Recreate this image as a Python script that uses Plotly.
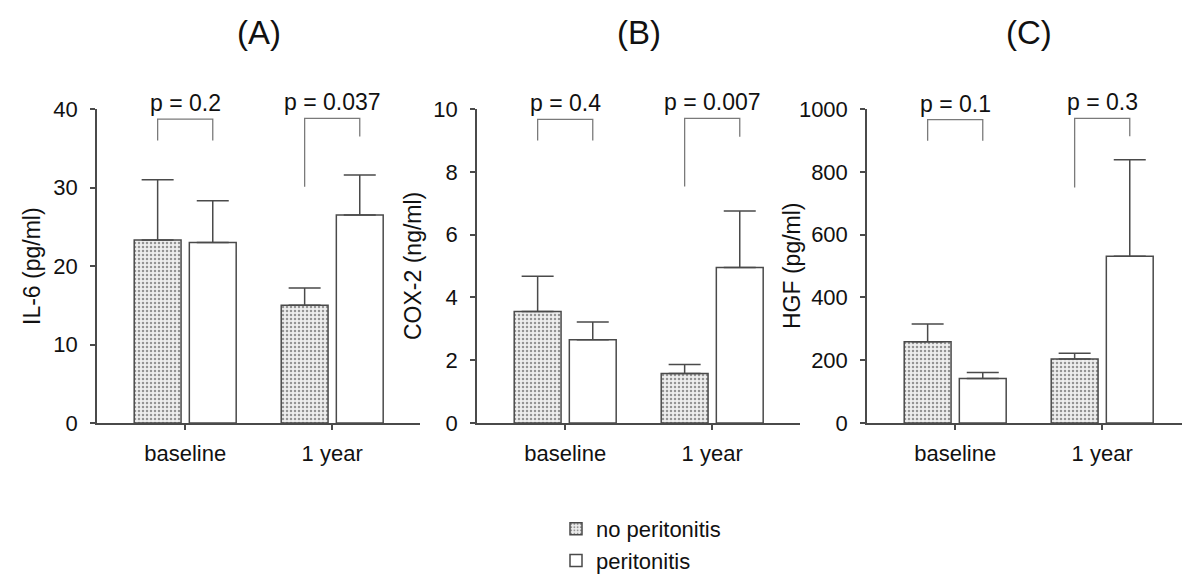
import plotly.graph_objects as go

# ---------------- data ----------------
groups = ["baseline", "1 year"]
series_names = ["no peritonitis", "peritonitis"]

il6_no = [23.3, 15.0]
il6_no_sem = [7.7, 2.2]
il6_yes = [23.0, 26.5]
il6_yes_sem = [5.3, 5.1]

cox_no = [3.55, 1.58]
cox_no_sem = [1.12, 0.28]
cox_yes = [2.65, 4.95]
cox_yes_sem = [0.57, 1.80]

hgf_no = [259, 204]
hgf_no_sem = [56, 18]
hgf_yes = [142, 531]
hgf_yes_sem = [19, 307]

# significance brackets: top, left-leg bottom, right-leg bottom (per group)
il6_br_top = [38.7, 38.8]
il6_br_left = [36.0, 30.1]
il6_br_right = [36.0, 36.5]
cox_br_top = [9.67, 9.7]
cox_br_left = [9.0, 7.53]
cox_br_right = [9.0, 9.12]
hgf_br_top = [966, 970]
hgf_br_left = [899, 750]
hgf_br_right = [899, 913]

il6_p = ["p = 0.2", "p = 0.037"]
cox_p = ["p = 0.4", "p = 0.007"]
hgf_p = ["p = 0.1", "p = 0.3"]

panel_titles = ["(A)", "(B)", "(C)"]
y_titles = ["IL-6 (pg/ml)", "COX-2 (ng/ml)", "HGF (pg/ml)"]
y_ranges = [[0, 40], [0, 10], [0, 1000]]
y_dticks = [10, 2, 200]

# ---------------- styling ----------------
W, H = 1182, 574
FONT = "Liberation Sans, Arial, sans-serif"
TXT = "#111111"
LINE = "#4a4a4a"
BRK = "#7a7a7a"
BARGAP = 0.25
BARGROUPGAP = 0.15
half = (1 - BARGAP) / 4  # offset of bar centre from group centre

xpos = list(range(len(groups)))

panels = [
    dict(no=il6_no, no_e=il6_no_sem, yes=il6_yes, yes_e=il6_yes_sem,
         top=il6_br_top, left=il6_br_left, right=il6_br_right, p=il6_p),
    dict(no=cox_no, no_e=cox_no_sem, yes=cox_yes, yes_e=cox_yes_sem,
         top=cox_br_top, left=cox_br_left, right=cox_br_right, p=cox_p),
    dict(no=hgf_no, no_e=hgf_no_sem, yes=hgf_yes, yes_e=hgf_yes_sem,
         top=hgf_br_top, left=hgf_br_left, right=hgf_br_right, p=hgf_p),
]

# panel geometry (pixels)
axis_left_px = [97, 477, 867]
px_per_unit = 147.0
x0_units = -0.6
ydom = [1 - 423 / H, 1 - 109 / H]
title_offsets = [65, 64, 75]

fig = go.Figure()
annotations = []

for i, pnl in enumerate(panels):
    xa = "x" if i == 0 else f"x{i+1}"
    ya = "y" if i == 0 else f"y{i+1}"

    fig.add_trace(go.Bar(
        x=xpos, y=pnl["no"], name=series_names[0], xaxis=xa, yaxis=ya,
        showlegend=(i == 0), legendgroup="no",
        marker=dict(color="white", line=dict(color=LINE, width=1.5),
                    pattern=dict(shape=".", fgcolor="#3a3a3a", bgcolor="#eeeeee",
                                 size=4, solidity=0.3)),
        error_y=dict(type="data", symmetric=False, array=pnl["no_e"],
                     arrayminus=[0] * len(groups), color=LINE, thickness=1.5, width=16),
    ))
    fig.add_trace(go.Bar(
        x=xpos, y=pnl["yes"], name=series_names[1], xaxis=xa, yaxis=ya,
        showlegend=(i == 0), legendgroup="yes",
        marker=dict(color="white", line=dict(color=LINE, width=1.5)),
        error_y=dict(type="data", symmetric=False, array=pnl["yes_e"],
                     arrayminus=[0] * len(groups), color=LINE, thickness=1.5, width=16),
    ))

    # brackets
    for g in xpos:
        fig.add_trace(go.Scatter(
            x=[g - half, g - half, g + half, g + half],
            y=[pnl["left"][g], pnl["top"][g], pnl["top"][g], pnl["right"][g]],
            mode="lines", line=dict(color=BRK, width=1.3),
            xaxis=xa, yaxis=ya, showlegend=False, hoverinfo="skip",
        ))
        annotations.append(dict(
            x=g, y=pnl["top"][g], xref=xa, yref=ya, text=pnl["p"][g],
            showarrow=False, yanchor="bottom", yshift=1,
            font=dict(size=23, color=TXT, family=FONT),
        ))

    # panel title
    annotations.append(dict(
        x=0.5, y=1 - 33 / H, xref=xa, yref="paper", text=panel_titles[i],
        showarrow=False, yanchor="middle", xanchor="center",
        font=dict(size=33, color=TXT, family=FONT),
    ))
    # y-axis title
    annotations.append(dict(
        x=0, y=0.5, xref=f"{xa} domain", yref=f"{ya} domain", text=y_titles[i],
        showarrow=False, textangle=-90, xanchor="center", yanchor="middle",
        xshift=-title_offsets[i],
        font=dict(size=23, color=TXT, family=FONT),
    ))

    left = axis_left_px[i]
    right = min(left + px_per_unit * 2.2, W)
    x1_units = x0_units + (right - left) / px_per_unit

    xkey = "xaxis" if i == 0 else f"xaxis{i+1}"
    ykey = "yaxis" if i == 0 else f"yaxis{i+1}"
    fig.update_layout(**{
        xkey: dict(domain=[left / W, right / W], range=[x0_units, x1_units],
                   tickmode="array", tickvals=xpos, ticktext=groups,
                   showline=True, linecolor=LINE, linewidth=1.5,
                   ticks="outside", ticklen=5, tickwidth=1.5, tickcolor=LINE,
                   showgrid=False, zeroline=False, anchor=ya, automargin=False,
                   tickfont=dict(size=22, color=TXT, family=FONT),
                   ticklabelstandoff=5, fixedrange=True),
        ykey: dict(domain=ydom, range=y_ranges[i], dtick=y_dticks[i],
                   showline=True, linecolor=LINE, linewidth=1.5,
                   ticks="outside", ticklen=5, tickwidth=1.5, tickcolor=LINE,
                   showgrid=False, zeroline=False, anchor=xa, automargin=False,
                   tickfont=dict(size=22, color=TXT, family=FONT),
                   ticklabelstandoff=8, fixedrange=True),
    })

fig.update_layout(
    width=W, height=H,
    margin=dict(l=0, r=0, t=0, b=0, autoexpand=False),
    paper_bgcolor="white", plot_bgcolor="white",
    barmode="group", bargap=BARGAP, bargroupgap=BARGROUPGAP,
    annotations=annotations,
    font=dict(family=FONT, color=TXT),
    legend=dict(x=556 / W, y=1 - 508 / H, xanchor="left", yanchor="top",
                orientation="v", font=dict(size=22, color=TXT, family=FONT),
                bgcolor="rgba(0,0,0,0)", itemwidth=30, tracegroupgap=0),
)

fig.write_html(
    "out.html",
    config={"displayModeBar": False},
    post_script="document.body.style.margin='0';document.body.style.overflow='hidden';",
)
